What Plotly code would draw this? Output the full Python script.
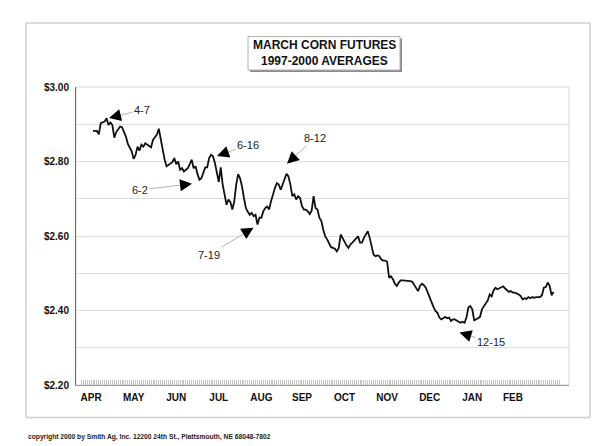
import plotly.graph_objects as go

# ---- data ----
sessions = [0, 2, 3, 4, 6, 7, 8, 9, 10, 11, 12, 14, 15, 16, 17, 18,
            20, 21, 22, 23, 24, 25, 26, 27, 28, 29, 30, 31,
            33, 34, 35, 36, 37, 38,
            40, 41, 42, 43, 44, 45, 46, 47, 48, 49, 50, 51, 52, 53, 54, 55, 56, 57, 58, 59,
            60, 61, 62, 63, 64, 65, 66, 67, 68, 69, 70, 71, 72, 73, 74, 75, 76, 77, 78, 79,
            80, 81, 82, 83, 84, 85, 86, 87, 88, 89, 90, 91, 92, 93, 94, 95, 96, 97, 98, 99,
            100, 101, 102, 103, 104, 105, 106, 107, 108, 109, 110, 111, 112, 113, 114, 115, 116, 117, 118, 119,
            120, 121, 122, 123, 124, 125, 126, 127, 128, 129, 130, 131, 132, 133, 134, 135, 136, 137, 138, 139,
            140, 141, 142, 143, 144, 145, 146, 147, 148, 149, 150, 151, 152, 153, 154, 155, 156, 157, 158, 159,
            160, 161, 162, 163, 164, 165, 166, 167, 168, 169, 170, 171, 172, 173, 174, 175, 176, 177, 178, 179,
            180, 181, 182, 183, 184, 185, 186, 187, 188, 189, 190, 191, 192, 193, 194, 195, 196, 197, 198, 199,
            200, 201, 202, 203, 204, 205, 206, 207, 208, 209, 210, 211, 212, 213, 214, 215, 216, 217, 218, 219,
            220, 221, 222, 223, 224, 225, 226, 227, 228, 229, 230, 231, 232, 233, 234, 235, 236, 237, 238]

prices = [2.882, 2.882, 2.873, 2.903, 2.907, 2.916, 2.898, 2.905, 2.898, 2.864,
          2.879, 2.894, 2.892, 2.880, 2.867, 2.847,
          2.827, 2.807, 2.818, 2.840, 2.829, 2.845, 2.840, 2.849, 2.845, 2.843, 2.838, 2.858,
          2.872, 2.888, 2.858, 2.827, 2.805, 2.787,
          2.793, 2.798, 2.809, 2.793, 2.800, 2.778, 2.782, 2.773, 2.778, 2.782,
          2.793, 2.805, 2.782, 2.787, 2.766, 2.751, 2.755, 2.773, 2.784, 2.784,
          2.809, 2.818, 2.814, 2.796, 2.773, 2.745, 2.784, 2.738, 2.711, 2.684,
          2.698, 2.691, 2.671, 2.693, 2.738, 2.766, 2.755, 2.733, 2.702, 2.675,
          2.665, 2.657, 2.662, 2.653, 2.657, 2.631, 2.649, 2.649, 2.666, 2.675,
          2.679, 2.671, 2.693, 2.715, 2.729, 2.742, 2.738, 2.724, 2.738, 2.755,
          2.767, 2.760, 2.738, 2.707, 2.712, 2.698, 2.707, 2.702, 2.680, 2.671,
          2.671, 2.666, 2.659, 2.668, 2.707, 2.675, 2.671, 2.649, 2.640, 2.617,
          2.599, 2.591, 2.582, 2.570, 2.568, 2.566, 2.559, 2.568, 2.604, 2.595,
          2.582, 2.575, 2.568, 2.577, 2.582, 2.588, 2.595, 2.599, 2.582, 2.582,
          2.595, 2.604, 2.613, 2.595, 2.568, 2.550, 2.546, 2.548, 2.546, 2.537,
          2.534, 2.534, 2.531, 2.488, 2.492, 2.484, 2.472, 2.466, 2.475, 2.481,
          2.481, 2.481, 2.479, 2.479, 2.479, 2.477, 2.468, 2.461, 2.452, 2.466,
          2.472, 2.468, 2.461, 2.448, 2.434, 2.421, 2.409, 2.399, 2.394, 2.381,
          2.376, 2.379, 2.383, 2.379, 2.381, 2.372, 2.376, 2.376, 2.374, 2.370,
          2.367, 2.370, 2.367, 2.381, 2.408, 2.412, 2.403, 2.374, 2.376, 2.379,
          2.383, 2.403, 2.412, 2.417, 2.427, 2.443, 2.438, 2.454, 2.461, 2.457,
          2.459, 2.461, 2.465, 2.459, 2.454, 2.450, 2.452, 2.448, 2.448, 2.446,
          2.443, 2.439, 2.430, 2.433, 2.431, 2.436, 2.433, 2.436, 2.434, 2.436,
          2.437, 2.436, 2.441, 2.461, 2.463, 2.475, 2.466, 2.441, 2.450]

month_labels = ["APR", "MAY", "JUN", "JUL", "AUG", "SEP", "OCT", "NOV", "DEC", "JAN", "FEB"]
month_sessions = [-1, 21, 43, 65, 87, 108, 130, 152, 174, 196, 217]
tick_first, tick_last = -6, 241

price_ticks = [2.2, 2.3, 2.4, 2.5, 2.6, 2.7, 2.8, 2.9, 3.0]
price_ticktext = ["$2.20", "", "$2.40", "", "$2.60", "", "$2.80", "", "$3.00"]

notes = ["4-7", "6-16", "8-12", "6-2", "7-19", "12-15"]

# ---- layout helpers (pixel -> paper) ----
W, H = 603, 446
ML, MR, MT, MB = 68, 42, 79, 68.5
PW, PH = W - ML - MR, H - MT - MB


def px(x):
    return (x - ML) / PW


def py(y):
    return (H - MB - y) / PH


tick_vals = list(range(tick_first, tick_last + 1))
tick_text = []
for t in tick_vals:
    tick_text.append(month_labels[month_sessions.index(t)] if t in month_sessions else "")

fig = go.Figure()
fig.add_trace(go.Scatter(x=sessions, y=prices, mode="lines",
                         line=dict(color="#111111", width=1.8), hoverinfo="skip",
                         showlegend=False))

font_b = "Liberation Sans, Arial, sans-serif"

fig.update_layout(
    width=W, height=H,
    margin=dict(l=ML, r=MR, t=MT, b=MB),
    paper_bgcolor="white", plot_bgcolor="white",
    showlegend=False,
    xaxis=dict(range=[-8.8, 246], tickvals=tick_vals, ticktext=tick_text,
               ticks="inside", ticklen=5, tickcolor="#c4c4c4", tickwidth=1,
               showgrid=False, zeroline=False, showline=True, linecolor="#9a9a9a",
               linewidth=1, ticklabelstandoff=3,
               tickfont=dict(family=font_b, size=10, color="#111", weight="bold")),
    yaxis=dict(range=[2.2, 3.0], tickvals=price_ticks, ticktext=price_ticktext,
               ticks="", showgrid=True, gridcolor="#dedede", gridwidth=1,
               zeroline=False, showline=True, linecolor="#707070", linewidth=1,
               ticklabelstandoff=4,
               tickfont=dict(family=font_b, size=10, color="#111", weight="bold")),
)

shapes = []
# outer frame
shapes.append(dict(type="rect", xref="paper", yref="paper",
                   x0=px(18), x1=px(582), y0=py(410), y1=py(15),
                   line=dict(color="#cfcfcf", width=1.5), layer="below"))
# plot frame (top/right light)
shapes.append(dict(type="rect", xref="paper", yref="paper",
                   x0=0, x1=1, y0=0, y1=1,
                   line=dict(color="#d4d4d4", width=1), layer="below"))
# title box shadow + box
shapes.append(dict(type="rect", xref="paper", yref="paper",
                   x0=px(242), x1=px(394), y0=py(64), y1=py(30.5),
                   line=dict(width=0), fillcolor="#8a8a8a", layer="above"))
shapes.append(dict(type="rect", xref="paper", yref="paper",
                   x0=px(240), x1=px(392), y0=py(62), y1=py(28.5),
                   line=dict(color="#b0b0b0", width=1), fillcolor="white", layer="above"))
fig.update_layout(shapes=shapes)

ann = []
ann.append(dict(xref="paper", yref="paper", x=px(316), y=py(36.5), text="<b>MARCH CORN FUTURES</b>",
                showarrow=False, font=dict(family=font_b, size=12, color="#111"),
                xanchor="center", yanchor="middle"))
ann.append(dict(xref="paper", yref="paper", x=px(316), y=py(52.5), text="<b>1997-2000 AVERAGES</b>",
                showarrow=False, font=dict(family=font_b, size=12, color="#111"),
                xanchor="center", yanchor="middle"))
ann.append(dict(xref="paper", yref="paper", x=px(18), y=py(430),
                text="<b>copyright 2000 by Smith Ag, Inc. 12200 24th St., Plattsmouth, NE 68048-7802</b>",
                showarrow=False, font=dict(family=font_b, size=6.7, color="#222"),
                xanchor="left", yanchor="middle"))

# annotation text centre and arrow tip in pixels
note_text_px = [(134, 102), (240, 137), (306.5, 130), (132, 182), (201, 247), (483, 334.5)]
note_tip_px = [(101, 110), (209, 148), (279, 156), (184, 176), (245.5, 220), (451.5, 325)]

for label, (tx, ty), (hx, hy) in zip(notes, note_text_px, note_tip_px):
    # grey shaft from label to tip
    ann.append(dict(xref="paper", yref="paper", x=px(hx), y=py(hy),
                    ax=tx - hx, ay=ty - hy, text=label, showarrow=True,
                    arrowhead=0, arrowwidth=0.8, arrowcolor="#a0a0a0",
                    font=dict(family=font_b, size=11, color="#222"),
                    standoff=4))
    # black head
    dx, dy = tx - hx, ty - hy
    L = (dx * dx + dy * dy) ** 0.5
    ann.append(dict(xref="paper", yref="paper", x=px(hx), y=py(hy),
                    ax=dx / L * 8, ay=dy / L * 8, text="", showarrow=True,
                    arrowhead=2, arrowsize=1.2, arrowwidth=2, arrowcolor="#000"))

fig.update_layout(annotations=ann)

fig.write_html("out.html")
